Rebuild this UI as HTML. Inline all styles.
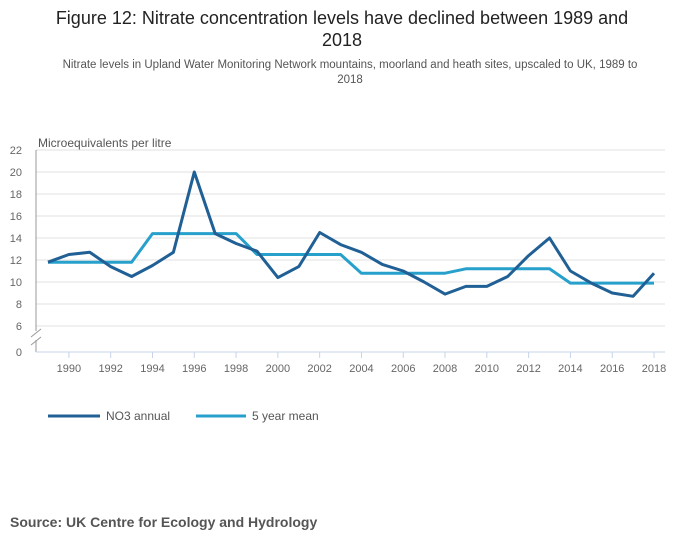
<!DOCTYPE html>
<html><head><meta charset="utf-8"><style>
body{margin:0;background:#fff;font-family:"Liberation Sans",sans-serif;}
</style></head><body>
<svg width="700" height="549" xmlns="http://www.w3.org/2000/svg" font-family="Liberation Sans, sans-serif">
<text x="342" y="24" text-anchor="middle" font-size="18" fill="#222">Figure 12: Nitrate concentration levels have declined between 1989 and</text>
<text x="342" y="46" text-anchor="middle" font-size="18" fill="#222">2018</text>
<text x="350" y="68" text-anchor="middle" font-size="11.5" fill="#555">Nitrate levels in Upland Water Monitoring Network mountains, moorland and heath sites, upscaled to UK, 1989 to</text>
<text x="350" y="83" text-anchor="middle" font-size="11.5" fill="#555">2018</text>
<text x="38" y="147" font-size="12" fill="#555">Microequivalents per litre</text>
<g id="grid"></g>
<g id="axes"></g>
<g id="series"></g>
<g>
<line x1="48" y1="416" x2="100" y2="416" stroke="#206095" stroke-width="3"/>
<text x="106" y="420" font-size="12" fill="#555">NO3 annual</text>
<line x1="196" y1="416" x2="246" y2="416" stroke="#27a0cc" stroke-width="3"/>
<text x="252" y="420" font-size="12" fill="#555">5 year mean</text>
</g>
<text x="10" y="527" font-size="14" font-weight="bold" fill="#555">Source: UK Centre for Ecology and Hydrology</text>
</svg>
<script>
const years=[1989,1990,1991,1992,1993,1994,1995,1996,1997,1998,1999,2000,2001,2002,2003,2004,2005,2006,2007,2008,2009,2010,2011,2012,2013,2014,2015,2016,2017,2018];
const annual=[11.8,12.5,12.7,11.4,10.5,11.5,12.7,20,14.4,13.5,12.8,10.4,11.4,14.5,13.4,12.7,11.6,11.0,10.0,8.9,9.6,9.6,10.5,12.4,14.0,11.0,9.9,9.0,8.7,10.8];
const mean5=[11.8,11.8,11.8,11.8,11.8,14.4,14.4,14.4,14.4,14.4,12.5,12.5,12.5,12.5,12.5,10.8,10.8,10.8,10.8,10.8,11.2,11.2,11.2,11.2,11.2,9.9,9.9,9.9,9.9,9.9];
const yTicks=[6,8,10,12,14,16,18,20,22];
const xTickLabels=[1990,1992,1994,1996,1998,2000,2002,2004,2006,2008,2010,2012,2014,2016,2018];
const NS='http://www.w3.org/2000/svg';
function xs(y){return 48+(y-1989)*(606/29);}
function ys(v){return v<=0?352:150+(22-v)*11;}
function mk(tag,attrs,parent){const e=document.createElementNS(NS,tag);for(const k in attrs)e.setAttribute(k,attrs[k]);document.getElementById(parent).appendChild(e);return e;}
yTicks.forEach(t=>{
  const l=mk('line',{x1:36,x2:665,y1:ys(t),y2:ys(t),stroke:'#e0e0e0','stroke-width':1},'grid');
  
  
  const tx=mk('text',{x:22,y:ys(t)+4,'text-anchor':'end','font-size':11,fill:'#666'},'grid');
  tx.textContent=t;
  
  
});
const z=mk('text',{x:22,y:356,'text-anchor':'end','font-size':11,fill:'#666'},'axes');z.textContent='0';


const ya=mk('path',{d:'M36 150 V331 M36 340 V352',stroke:'#999','stroke-width':1,fill:'none'},'axes');


const br=mk('path',{d:'M31 337 L41 329 M31 345 L41 337',stroke:'#999','stroke-width':1,fill:'none'},'axes');


const xa=mk('line',{x1:36,x2:665,y1:352,y2:352,stroke:'#c8d4ea','stroke-width':1},'axes');


xTickLabels.forEach(y=>{
  const t=mk('line',{x1:xs(y),x2:xs(y),y1:352,y2:358,stroke:'#c8d4ea'},'axes');
  
  
  const tx=mk('text',{x:xs(y),y:372,'text-anchor':'middle','font-size':11,fill:'#666'},'axes');
  tx.textContent=y;
  
  
});
function line(vals,color,name){
  const d=vals.map((v,i)=>(i?'L':'M')+xs(years[i]).toFixed(1)+' '+ys(v).toFixed(1)).join(' ');
  const p=mk('path',{d:d,stroke:color,'stroke-width':3,fill:'none','stroke-linejoin':'round'},'series');
  
  
}
line(mean5,'#27a0cc','series-5-year-mean');
line(annual,'#206095','series-no3-annual');
</script>
</body></html>
